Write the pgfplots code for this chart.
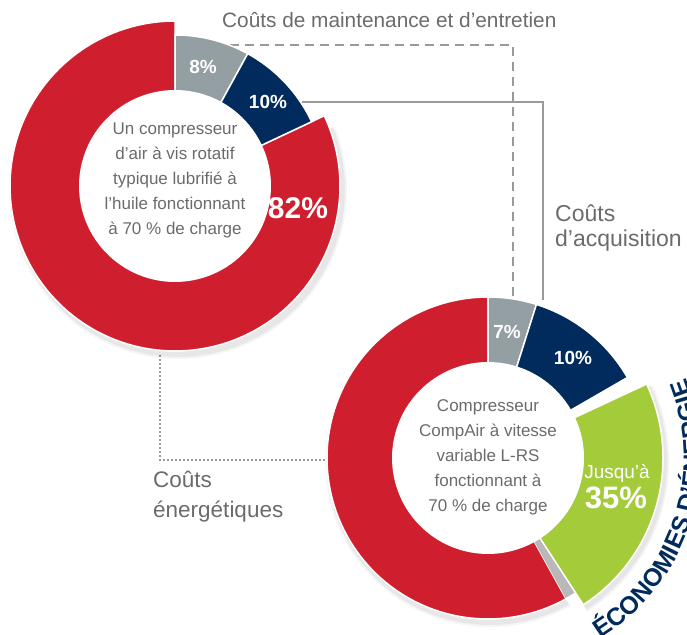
\documentclass[border=0pt]{standalone}
\usepackage{pgfplots}
\pgfplotsset{compat=1.18}
\usepackage{fontspec}
\setmainfont{Liberation Sans}
\usetikzlibrary{decorations.text}
\definecolor{cred}{HTML}{CF1F2F}
\definecolor{cgrey}{HTML}{949FA4}
\definecolor{cnavy}{HTML}{002B5C}
\definecolor{cgreen}{HTML}{A4CB3A}
\definecolor{ctext}{HTML}{6B6B6B}
\definecolor{cline}{HTML}{9A9A9A}
\definecolor{cside}{HTML}{B8B8B8}
\newcommand\fs[1]{\fontsize{#1}{#1}\selectfont}
% sector: cx, cy, R, start angle, end angle, style
\newcommand\sector[6]{%
  \addplot[#6, domain=#4:#5, samples=120, variable=\t]
    ({#1+#3*cos(\t)},{#2+#3*sin(\t)}) -- (axis cs:#1,#2) -- cycle;}
\begin{document}
\begin{tikzpicture}
\begin{axis}[name=ax, x=1pt, y=1pt, xmin=0, xmax=687, ymin=0, ymax=634,
  hide axis, clip=true, no markers]
% ---------- connector lines ----------
\addplot[cline, line width=1.1pt, dash pattern=on 9pt off 6pt] coordinates {(230,589) (513,589) (513,337)};
\addplot[cline, line width=1.1pt] coordinates {(302,532) (543,532) (543,334)};
\addplot[cline, line width=1.1pt, dash pattern=on 2pt off 2pt] coordinates {(160,279) (160,174) (327,174)};
% ---------- top donut: 8 % / 10 % / 82 % ----------
\sector{178}{444}{169}{-260}{22}{fill=black, opacity=0.04, draw=none}
\sector{178}{444}{167}{-260}{22}{fill=black, opacity=0.06, draw=none}
\sector{175}{448}{165}{-270}{25.2}{fill=cred, draw=white, line width=1.5pt}   % 82 %
\sector{175}{448}{151}{61.2}{90}{fill=cgrey, draw=white, line width=1.5pt}    % 8 %
\sector{175}{448}{151}{25.2}{61.2}{fill=cnavy, draw=white, line width=1.5pt}  % 10 %
\sector{175}{448}{96}{0}{360}{fill=white, draw=none}
% ---------- bottom donut: 7 % / 10 % / 35 % ----------
\sector{490}{172}{165}{-270}{-61}{fill=black, opacity=0.04, draw=none}
\sector{490}{172}{163}{-270}{-61}{fill=black, opacity=0.06, draw=none}
\sector{488}{176}{161}{-270}{-61}{fill=cred, draw=white, line width=1.5pt}
\sector{488}{176}{160}{-61}{-56}{fill=cside, draw=none}
\sector{488}{176}{161}{72.5}{90}{fill=cgrey, draw=white, line width=1.5pt}
\sector{488}{176}{161}{30}{72.5}{fill=cnavy, draw=white, line width=1.5pt}
\sector{490}{173}{179}{-57}{25}{fill=black, opacity=0.05, draw=none}
\sector{490}{173}{177}{-57}{25}{fill=black, opacity=0.05, draw=none}
\sector{488}{176}{175}{-57}{25}{fill=cgreen, draw=white, line width=1.5pt}
\sector{488}{176}{96}{0}{360}{fill=white, draw=none}
% ---------- slice labels ----------
\node[text=white, font=\bfseries\fs{19}] at (axis cs:203,567) {8\%};
\node[text=white, font=\bfseries\fs{19}] at (axis cs:268,532) {10\%};
\node[text=white, font=\bfseries\fs{30}] at (axis cs:298,426) {82\%};
\node[text=white, font=\bfseries\fs{19}] at (axis cs:507,302) {7\%};
\node[text=white, font=\bfseries\fs{19}] at (axis cs:573,276) {10\%};
\node[text=white, font=\fs{19}] at (axis cs:617,161) {Jusqu'à};
\node[text=white, font=\bfseries\fs{31}] at (axis cs:616,136) {35\%};
% ---------- centre texts ----------
\node[text=ctext, font=\fs{17}, anchor=base] at (axis cs:175,499) {Un compresseur};
\node[text=ctext, font=\fs{17}, anchor=base] at (axis cs:175,474) {d'air à vis rotatif};
\node[text=ctext, font=\fs{17}, anchor=base] at (axis cs:175,449) {typique lubrifié à};
\node[text=ctext, font=\fs{17}, anchor=base] at (axis cs:175,424) {l'huile fonctionnant};
\node[text=ctext, font=\fs{17}, anchor=base] at (axis cs:175,399) {à 70 \% de charge};
\node[text=ctext, font=\fs{17}, anchor=base] at (axis cs:488,222) {Compresseur};
\node[text=ctext, font=\fs{17}, anchor=base] at (axis cs:488,197) {CompAir à vitesse};
\node[text=ctext, font=\fs{17}, anchor=base] at (axis cs:488,172) {variable L-RS};
\node[text=ctext, font=\fs{17}, anchor=base] at (axis cs:488,147) {fonctionnant à};
\node[text=ctext, font=\fs{17}, anchor=base] at (axis cs:488,122) {70 \% de charge};
% ---------- callout labels ----------
\node[text=ctext, font=\fs{20.8}, anchor=base west, inner sep=0pt] at (axis cs:222,606) {Coûts de maintenance et d’entretien};
\node[text=ctext, font=\fs{23}, anchor=base west, inner sep=0pt] at (axis cs:555,412) {Coûts};
\node[text=ctext, font=\fs{23}, anchor=base west, inner sep=0pt] at (axis cs:555,387) {d’acquisition};
\node[text=ctext, font=\fs{22.5}, anchor=base west, inner sep=0pt] at (axis cs:153,146) {Coûts};
\node[text=ctext, font=\fs{22.5}, anchor=base west, inner sep=0pt] at (axis cs:153,117) {énergétiques};
% ---------- curved label (runs past the right edge, as in the original) ----------
\path[decorate, decoration={text along path, text align=left,
  text={|\bfseries\fs{25}\color{cnavy}|ÉCONOMIES D’ÉNERGIE}}]
  (axis cs:600.87,-4.63) arc[start angle=-58, end angle=40, radius=213pt];
\end{axis}
\pgfresetboundingbox
\path (ax.south west) rectangle (ax.north east);
\end{tikzpicture}
\end{document}
